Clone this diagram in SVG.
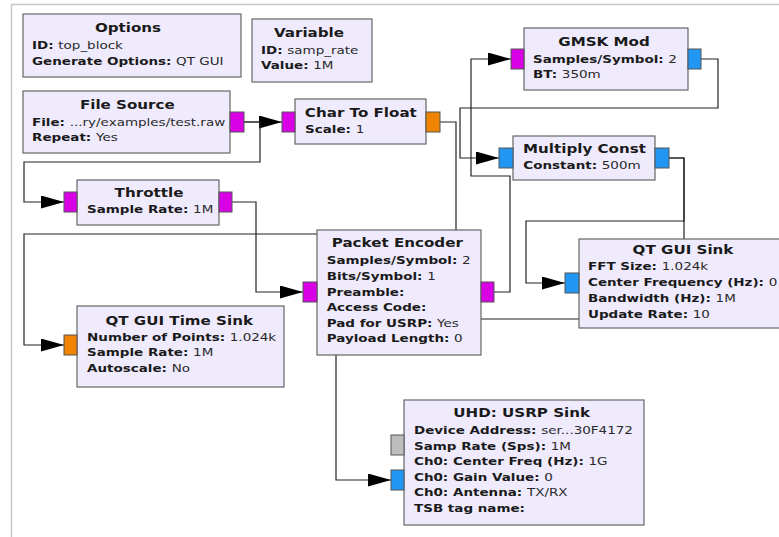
<svg xmlns="http://www.w3.org/2000/svg" width="779" height="537" viewBox="0 0 779 537">
<defs>
<style>
.blk{fill:#EFEBFD;stroke:#666;stroke-width:1.2}
.pm{fill:#DA00E6;stroke:#555;stroke-width:1}
.po{fill:#F08300;stroke:#555;stroke-width:1}
.pb{fill:#2196F3;stroke:#555;stroke-width:1}
.pg{fill:#BDBDBD;stroke:#555;stroke-width:1}
text{font-family:"DejaVu Sans","Liberation Sans",sans-serif;fill:#1a1a1a}
.ti{font-size:12.6px;font-weight:bold;text-anchor:middle}
.b{font-size:11.25px;font-weight:bold}
.v{font-weight:normal;fill:#2a2a2a}
.c{fill:none;stroke:#222;stroke-width:1.2;marker-end:url(#ah)}
</style>
<marker id="ah" markerUnits="userSpaceOnUse" markerWidth="24" markerHeight="14" refX="23" refY="6.5" orient="auto">
<path d="M0,0 L23,6.5 L0,13 z" fill="#000"/>
</marker>
</defs>
<rect x="0" y="0" width="779" height="537" fill="#fff"/>
<path d="M11,4.5 H779 M11.5,4 V537" fill="none" stroke="#c6c6c6" stroke-width="1.5"/>

<g id="connectors">
<path class="c" d="M244,122 H282"/>
<path class="c" d="M244,122 H260 V162 H24 V202 H64"/>
<path class="c" d="M440,122 H456 V234 H24 V345 H64"/>
<path class="c" d="M232,202 H256 V292 H303"/>
<path class="c" d="M494,292 H510 V176 H471 V59 H511"/>
<path class="c" d="M701,59 H718 V108 H460 V158 H499"/>
<path class="c" d="M669,158 H684 V221 H526 V283 H565"/>
<path class="c" d="M669,158 H684 V319 H336 V480 H391"/>
</g>

<g id="options">
<rect class="blk" x="23" y="14" width="218" height="63"/>
<g transform="scale(1.2 1)">
<text class="ti" x="106.67" y="32">Options</text>
<text class="b" x="26.67" y="49">ID: <tspan class="v">top_block</tspan></text>
<text class="b" x="26.67" y="65">Generate Options: <tspan class="v">QT GUI</tspan></text>
</g>
</g>

<g id="variable">
<rect class="blk" x="252" y="19" width="120" height="63"/>
<g transform="scale(1.2 1)">
<text class="ti" x="257.5" y="37">Variable</text>
<text class="b" x="217.5" y="54">ID: <tspan class="v">samp_rate</tspan></text>
<text class="b" x="217.5" y="69">Value: <tspan class="v">1M</tspan></text>
</g>
</g>

<g id="file_source">
<rect class="blk" x="23" y="91" width="207" height="62"/>
<rect class="pm" x="230" y="112" width="14" height="20"/>
<g transform="scale(1.2 1)">
<text class="ti" x="106.1" y="109">File Source</text>
<text class="b" x="26.67" y="126">File: <tspan class="v">...ry/examples/test.raw</tspan></text>
<text class="b" x="26.67" y="141">Repeat: <tspan class="v">Yes</tspan></text>
</g>
</g>

<g id="char_to_float">
<rect class="blk" x="295" y="99" width="131" height="45"/>
<rect class="pm" x="282" y="112" width="13" height="20"/>
<rect class="po" x="426" y="112" width="14" height="20"/>
<g transform="scale(1.2 1)">
<text class="ti" x="300.7" y="117">Char To Float</text>
<text class="b" x="254.17" y="133">Scale: <tspan class="v">1</tspan></text>
</g>
</g>

<g id="throttle">
<rect class="blk" x="77" y="180" width="142" height="45"/>
<rect class="pm" x="64" y="192" width="13" height="20"/>
<rect class="pm" x="219" y="192" width="13" height="20"/>
<g transform="scale(1.2 1)">
<text class="ti" x="124.17" y="197">Throttle</text>
<text class="b" x="72.5" y="213">Sample Rate: <tspan class="v">1M</tspan></text>
</g>
</g>

<g id="gmsk_mod">
<rect class="blk" x="524" y="28" width="164" height="62"/>
<rect class="pm" x="511" y="49" width="13" height="20"/>
<rect class="pb" x="688" y="49" width="13" height="20"/>
<g transform="scale(1.2 1)">
<text class="ti" x="503.33" y="46">GMSK Mod</text>
<text class="b" x="444.17" y="63">Samples/Symbol: <tspan class="v">2</tspan></text>
<text class="b" x="444.17" y="78">BT: <tspan class="v">350m</tspan></text>
</g>
</g>

<g id="multiply_const">
<rect class="blk" x="513" y="136" width="142" height="44"/>
<rect class="pb" x="499" y="148" width="14" height="20"/>
<rect class="pb" x="655" y="148" width="14" height="20"/>
<g transform="scale(1.2 1)">
<text class="ti" x="487.08" y="153">Multiply Const</text>
<text class="b" x="436.1" y="169">Constant: <tspan class="v">500m</tspan></text>
</g>
</g>

<g id="packet_encoder">
<rect class="blk" x="317" y="230" width="164" height="125"/>
<rect class="pm" x="303" y="282" width="14" height="20"/>
<rect class="pm" x="481" y="282" width="13" height="20"/>
<g transform="scale(1.2 1)">
<text class="ti" x="331.1" y="247">Packet Encoder</text>
<text class="b" x="272.25" y="264">Samples/Symbol: <tspan class="v">2</tspan></text>
<text class="b" x="272.25" y="280">Bits/Symbol: <tspan class="v">1</tspan></text>
<text class="b" x="272.25" y="296">Preamble:</text>
<text class="b" x="272.25" y="311.5">Access Code:</text>
<text class="b" x="272.25" y="327">Pad for USRP: <tspan class="v">Yes</tspan></text>
<text class="b" x="272.25" y="342.5">Payload Length: <tspan class="v">0</tspan></text>
</g>
</g>

<g id="qt_gui_sink">
<rect class="blk" x="579" y="239" width="210" height="89"/>
<rect class="pb" x="565" y="273" width="14" height="20"/>
<g transform="scale(1.2 1)">
<text class="ti" x="569.17" y="254">QT GUI Sink</text>
<text class="b" x="490" y="270.5">FFT Size: <tspan class="v">1.024k</tspan></text>
<text class="b" x="490" y="286.5">Center Frequency (Hz): <tspan class="v">0</tspan></text>
<text class="b" x="490" y="302">Bandwidth (Hz): <tspan class="v">1M</tspan></text>
<text class="b" x="490" y="318">Update Rate: <tspan class="v">10</tspan></text>
</g>
</g>

<g id="qt_gui_time_sink">
<rect class="blk" x="77" y="306" width="207" height="81"/>
<rect class="po" x="64" y="335" width="13" height="20"/>
<g transform="scale(1.2 1)">
<text class="ti" x="149.33" y="325">QT GUI Time Sink</text>
<text class="b" x="72.5" y="341">Number of Points: <tspan class="v">1.024k</tspan></text>
<text class="b" x="72.5" y="356.5">Sample Rate: <tspan class="v">1M</tspan></text>
<text class="b" x="72.5" y="372.5">Autoscale: <tspan class="v">No</tspan></text>
</g>
</g>

<g id="uhd_usrp_sink">
<rect class="blk" x="404" y="400" width="240" height="125"/>
<rect class="pg" x="391" y="435" width="13" height="20"/>
<rect class="pb" x="391" y="470" width="13" height="20"/>
<g transform="scale(1.2 1)">
<text class="ti" x="434.75" y="417">UHD: USRP Sink</text>
<text class="b" x="345" y="434">Device Address: <tspan class="v">ser...30F4172</tspan></text>
<text class="b" x="345" y="450">Samp Rate (Sps): <tspan class="v">1M</tspan></text>
<text class="b" x="345" y="465.5">Ch0: Center Freq (Hz): <tspan class="v">1G</tspan></text>
<text class="b" x="345" y="481">Ch0: Gain Value: <tspan class="v">0</tspan></text>
<text class="b" x="345" y="496.5">Ch0: Antenna: <tspan class="v">TX/RX</tspan></text>
<text class="b" x="345" y="512">TSB tag name:</text>
</g>
</g>
</svg>
